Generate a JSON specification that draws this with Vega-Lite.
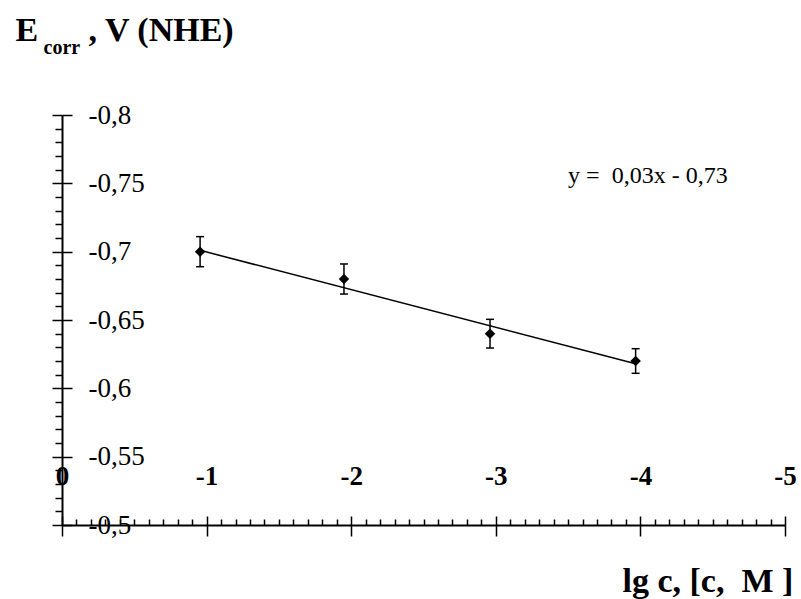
{
  "$schema": "https://vega.github.io/schema/vega-lite/v6.json",
  "width": 723,
  "height": 410,
  "autosize": "none",
  "padding": {"left": 62, "top": 115, "right": 16, "bottom": 74},
  "background": "white",
  "config": {
    "view": {"stroke": null},
    "axis": {"grid": false, "domainColor": "black", "tickColor": "black", "labelColor": "black", "titleColor": "black", "labelFont": "Liberation Serif", "titleFont": "Liberation Serif", "tickWidth": 1.5, "domainWidth": 2}
  },
  "datasets": {
    "points": [
      {"lgc": -0.955, "E": -0.700, "Elow": -0.711, "Ehigh": -0.689},
      {"lgc": -1.95, "E": -0.680, "Elow": -0.691, "Ehigh": -0.669},
      {"lgc": -2.96, "E": -0.640, "Elow": -0.6505, "Ehigh": -0.6295},
      {"lgc": -3.967, "E": -0.620, "Elow": -0.629, "Ehigh": -0.611}
    ],
    "trend": [
      {"lgc": -0.955, "E": -0.701},
      {"lgc": -3.967, "E": -0.618}
    ],
    "eq": [
      {"label": "y =\u00a0 0,03x - 0,73", "lgc": -3.5, "E": -0.7502}
    ]
  },
  "resolve": {"axis": {"x": "independent", "y": "independent"}},
  "layer": [
    {
      "data": {"name": "trend"},
      "mark": {"type": "line", "color": "black", "strokeWidth": 1.5},
      "encoding": {
        "x": {"field": "lgc", "type": "quantitative",
          "scale": {"domain": [-5, 0], "reverse": true, "nice": false, "zero": false},
          "axis": {"orient": "bottom", "values": [0, -1, -2, -3, -4, -5], "ticks": false, "domain": true,
            "labelExpr": "toString(datum.value)", "labelFontSize": 27, "labelFontWeight": "bold",
            "labelBaseline": "alphabetic", "labelPadding": -41, "labelFlush": false, "labelOverlap": false,
            "title": "lg c, [c,\u00a0 M ]", "titleFontSize": 34, "titleFontWeight": "bold",
            "titleX": 560, "titleY": 66, "titleAlign": "left", "titleBaseline": "alphabetic"}},
        "y": {"field": "E", "type": "quantitative",
          "scale": {"domain": [-0.8, -0.5], "reverse": true, "nice": false, "zero": false},
          "axis": {"orient": "left", "values": [-0.8, -0.75, -0.7, -0.65, -0.6, -0.55, -0.5], "ticks": false, "domain": true,
            "labelExpr": "replace(toString(datum.value), '.', ',')", "labelFontSize": 27,
            "labelAlign": "left", "labelPadding": -26, "labelFlush": false, "labelOverlap": false,
            "title": "E", "titleFontSize": 34, "titleFontWeight": "bold", "titleAngle": 0,
            "titleX": -47, "titleY": -75, "titleAlign": "left", "titleBaseline": "alphabetic"}}
      }
    },
    {
      "data": {"name": "points"},
      "mark": {"type": "rule", "color": "black", "strokeWidth": 1.5},
      "encoding": {
        "x": {"field": "lgc", "type": "quantitative",
          "scale": {"domain": [-5, 0], "reverse": true, "nice": false, "zero": false},
          "axis": {"orient": "bottom", "values": [0, -1, -2, -3, -4, -5], "tickSize": 11, "labels": false, "domain": false, "title": null}},
        "y": {"field": "Elow", "type": "quantitative",
          "scale": {"domain": [-0.8, -0.5], "reverse": true, "nice": false, "zero": false},
          "axis": {"orient": "left", "values": [-0.8, -0.75, -0.7, -0.65, -0.6, -0.55, -0.5], "tickSize": 10, "labels": false, "domain": false,
            "title": "corr", "titleFontSize": 20, "titleFontWeight": "bold", "titleAngle": 0,
            "titleX": -19, "titleY": -62, "titleAlign": "left", "titleBaseline": "alphabetic"}},
        "y2": {"field": "Ehigh"}
      }
    },
    {
      "data": {"name": "points"},
      "mark": {"type": "tick", "orient": "horizontal", "size": 8, "thickness": 1.5, "color": "black", "opacity": 1},
      "encoding": {
        "x": {"field": "lgc", "type": "quantitative",
          "scale": {"domain": [-5, 0], "reverse": true, "nice": false, "zero": false},
          "axis": {"orient": "bottom", "values": [0, -1, -2, -3, -4, -5], "tickSize": -9, "labels": false, "domain": false, "title": null}},
        "y": {"field": "Elow", "type": "quantitative",
          "scale": {"domain": [-0.8, -0.5], "reverse": true, "nice": false, "zero": false},
          "axis": {"orient": "left", "values": [-0.8, -0.75, -0.7, -0.65, -0.6, -0.55, -0.5], "tickSize": -10, "labels": false, "domain": false,
            "title": ", V (NHE)", "titleFontSize": 34, "titleFontWeight": "bold", "titleAngle": 0,
            "titleX": 26, "titleY": -75, "titleAlign": "left", "titleBaseline": "alphabetic"}}
      }
    },
    {
      "data": {"name": "points"},
      "mark": {"type": "tick", "orient": "horizontal", "size": 8, "thickness": 1.5, "color": "black", "opacity": 1},
      "encoding": {
        "x": {"field": "lgc", "type": "quantitative",
          "scale": {"domain": [-5, 0], "reverse": true, "nice": false, "zero": false},
          "axis": {"orient": "bottom", "values": [-0.1, -0.2, -0.3, -0.4, -0.5, -0.6, -0.7, -0.8, -0.9, -1.1, -1.2, -1.3, -1.4, -1.5, -1.6, -1.7, -1.8, -1.9, -2.1, -2.2, -2.3, -2.4, -2.5, -2.6, -2.7, -2.8, -2.9, -3.1, -3.2, -3.3, -3.4, -3.5, -3.6, -3.7, -3.8, -3.9, -4.1, -4.2, -4.3, -4.4, -4.5, -4.6, -4.7, -4.8, -4.9],
            "tickSize": -6, "labels": false, "domain": false, "title": null}},
        "y": {"field": "Ehigh", "type": "quantitative",
          "scale": {"domain": [-0.8, -0.5], "reverse": true, "nice": false, "zero": false},
          "axis": {"orient": "left", "values": [-0.79, -0.78, -0.77, -0.76, -0.74, -0.73, -0.72, -0.71, -0.69, -0.68, -0.67, -0.66, -0.64, -0.63, -0.62, -0.61, -0.59, -0.58, -0.57, -0.56, -0.54, -0.53, -0.52, -0.51],
            "tickSize": 7, "labels": false, "domain": false, "title": null}}
      }
    },
    {
      "data": {"name": "points"},
      "mark": {"type": "point", "shape": "diamond", "filled": true, "size": 110, "color": "black", "opacity": 1},
      "encoding": {
        "x": {"field": "lgc", "type": "quantitative",
          "scale": {"domain": [-5, 0], "reverse": true, "nice": false, "zero": false}, "axis": null},
        "y": {"field": "E", "type": "quantitative",
          "scale": {"domain": [-0.8, -0.5], "reverse": true, "nice": false, "zero": false}, "axis": null}
      }
    },
    {
      "data": {"name": "eq"},
      "mark": {"type": "text", "align": "left", "baseline": "alphabetic", "font": "Liberation Serif", "fontSize": 24, "color": "black"},
      "encoding": {
        "x": {"field": "lgc", "type": "quantitative",
          "scale": {"domain": [-5, 0], "reverse": true, "nice": false, "zero": false}, "axis": null},
        "y": {"field": "E", "type": "quantitative",
          "scale": {"domain": [-0.8, -0.5], "reverse": true, "nice": false, "zero": false}, "axis": null},
        "text": {"field": "label"}
      }
    }
  ]
}
